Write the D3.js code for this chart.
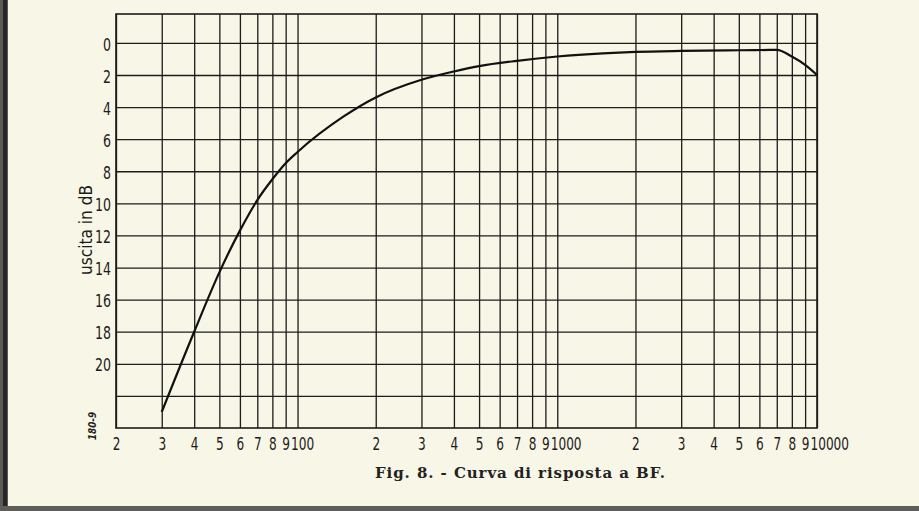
<!DOCTYPE html>
<html lang="it">
<head>
  <meta charset="UTF-8">
  <title>Curva di risposta a BF</title>
  <script src="https://cdn.jsdelivr.net/npm/d3@7"></script>
  <style>
    html, body { margin: 0; padding: 0; background: #f8f6e6; }
    svg { display: block; }
  </style>
</head>
<body>
<svg></svg>
<script>
  const width = 919, height = 511
  const margin = {top: 14, right: 102, bottom: 83, left: 116}

  // frequency (Hz) and output (dB below reference)
  const freq = [30, 40, 50, 60, 70, 80, 90, 100, 150, 200, 300, 400, 500, 700, 1000, 1500, 2000, 3000, 5000, 7000, 8000, 9000, 10000]
  const level = [23.0, 18.0, 14.3, 11.7, 9.8, 8.5, 7.5, 6.8, 4.6, 3.4, 2.3, 1.78, 1.45, 1.12, 0.85, 0.65, 0.56, 0.5, 0.46, 0.44, 0.85, 1.37, 2.0]

  // grid / tick values
  const xTicks = [20, 30, 40, 50, 60, 70, 80, 90, 100, 200, 300, 400, 500, 600, 700, 800, 900, 1000,
    2000, 3000, 4000, 5000, 6000, 7000, 8000, 9000, 10000]
  const xTickLabels = ['2', '3', '4', '5', '6', '7', '8', '9', '100', '2', '3', '4', '5', '6', '7', '8', '9', '1000',
    '2', '3', '4', '5', '6', '7', '8', '9', '10000']
  const yTicks = [0, 2, 4, 6, 8, 10, 12, 14, 16, 18, 20, 22]
  const yTickLabels = ['0', '2', '4', '6', '8', '10', '12', '14', '16', '18', '20', '']

  const ink = '#1c1c1c'
  const font = '"DejaVu Sans Condensed", "DejaVu Sans", sans-serif'
  const digitW = 7.7   // narrow stencil-like lettering

  const svg = d3.select('svg')
      .attr('width', width)
      .attr('height', height)
      .attr('viewBox', [0, 0, width, height])

  // paper edges (scan)
  svg.append('rect').attr('x', 0).attr('y', 0).attr('width', 8).attr('height', height).attr('fill', '#5a5a56')
  svg.append('rect').attr('x', 3).attr('y', 0).attr('width', 4).attr('height', height).attr('fill', '#262626')
  svg.append('rect').attr('x', 0).attr('y', 506).attr('width', width).attr('height', 5).attr('fill', '#5e5e5a')

  const x = d3.scaleLog()
      .domain([20, 10000])
      .range([margin.left, width - margin.right])

  const y = d3.scaleLinear()
      .domain([-1.8, 24])
      .range([margin.top, height - margin.bottom])

  // vertical grid + x labels
  svg.append('g')
      .attr('transform', `translate(0,${y(24)})`)
      .call(d3.axisBottom(x)
          .tickValues(xTicks)
          .tickFormat((d, i) => xTickLabels[i])
          .tickSize(-(y(24) - y(-1.8)))
          .tickPadding(10))
      .call(g => g.select('.domain').remove())
      .call(g => g.selectAll('.tick line').attr('stroke', ink).attr('stroke-width', 1.3))
      .call(g => g.selectAll('.tick text')
          .attr('fill', ink)
          .attr('font-family', font)
          .attr('font-size', 17)
          .attr('textLength', (d, i) => xTickLabels[i].length * digitW)
          .attr('lengthAdjust', 'spacingAndGlyphs')
          .attr('text-anchor', (d, i) => xTickLabels[i].length > 1 ? 'start' : 'middle')
          .attr('dx', (d, i) => xTickLabels[i].length > 1 ? -7 : 0))

  // horizontal grid + y labels
  svg.append('g')
      .attr('transform', `translate(${x(20)},0)`)
      .call(d3.axisLeft(y)
          .tickValues(yTicks)
          .tickFormat((d, i) => yTickLabels[i])
          .tickSize(-(x(10000) - x(20)))
          .tickPadding(5))
      .call(g => g.select('.domain').remove())
      .call(g => g.selectAll('.tick line').attr('stroke', ink).attr('stroke-width', 1.3))
      .call(g => g.selectAll('.tick text')
          .attr('fill', ink)
          .attr('font-family', font)
          .attr('font-size', 17)
          .attr('textLength', (d, i) => Math.max(1, yTickLabels[i].length) * 8)
          .attr('lengthAdjust', 'spacingAndGlyphs')
          .attr('dy', '0.42em'))

  // frame
  svg.append('rect')
      .attr('x', x(20))
      .attr('y', y(-1.8))
      .attr('width', x(10000) - x(20))
      .attr('height', y(24) - y(-1.8))
      .attr('fill', 'none')
      .attr('stroke', ink)
      .attr('stroke-width', 1.6)

  // response curve
  const line = d3.line()
      .curve(d3.curveMonotoneX)
      .x((d, i) => x(freq[i]))
      .y((d, i) => y(level[i]))

  svg.append('path')
      .attr('d', line(freq))
      .attr('fill', 'none')
      .attr('stroke', '#111')
      .attr('stroke-width', 2.2)

  // y axis title
  svg.append('text')
      .attr('transform', 'translate(92,230) rotate(-90)')
      .attr('text-anchor', 'middle')
      .attr('font-family', font)
      .attr('font-size', 17)
      .attr('fill', ink)
      .attr('textLength', 90)
      .attr('lengthAdjust', 'spacingAndGlyphs')
      .text('uscita in dB')

  // drawing number
  svg.append('text')
      .attr('transform', 'translate(96,426) rotate(-90)')
      .attr('text-anchor', 'middle')
      .attr('font-family', font)
      .attr('font-size', 11)
      .attr('font-style', 'italic')
      .attr('font-weight', 'bold')
      .attr('fill', ink)
      .attr('textLength', 28)
      .attr('lengthAdjust', 'spacingAndGlyphs')
      .text('180-9')

  // caption
  svg.append('text')
      .attr('x', 375)
      .attr('y', 478)
      .attr('font-family', '"DejaVu Serif", "Liberation Serif", serif')
      .attr('font-size', 15)
      .attr('font-weight', 'bold')
      .attr('fill', '#222')
      .attr('textLength', 290)
      .attr('lengthAdjust', 'spacing')
      .text('Fig. 8. - Curva di risposta a BF.')
</script>
</body>
</html>
